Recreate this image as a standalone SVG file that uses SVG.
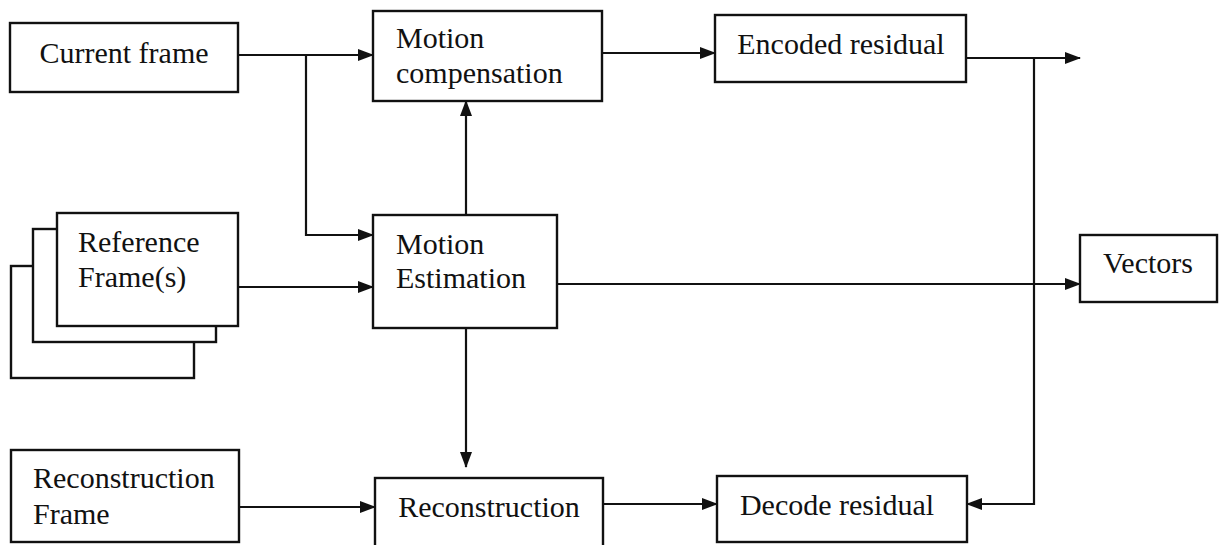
<svg xmlns="http://www.w3.org/2000/svg" width="1224" height="545" viewBox="0 0 1224 545">
<style>
.box{fill:#fff;stroke:#111;stroke-width:2.4}
.t{font-family:"Liberation Serif","Times New Roman",serif;font-size:30px;fill:#111}
.c{fill:none;stroke:#111;stroke-width:2.2}
</style>
<defs>
<marker id="ah" markerUnits="userSpaceOnUse" markerWidth="16" markerHeight="14" refX="15" refY="7" orient="auto">
<path d="M0,1 L16,7 L0,13 Z" fill="#111"/>
</marker>
</defs>
<rect width="1224" height="545" fill="#fff"/>
<g id="current-frame">
<rect class="box" x="10" y="23" width="228" height="69"/>
<text class="t" x="124" y="63" text-anchor="middle">Current frame</text>
</g>
<g id="motion-compensation">
<rect class="box" x="373" y="11" width="229" height="90"/>
<text class="t" x="396" y="48">Motion</text>
<text class="t" x="396" y="83">compensation</text>
</g>
<g id="encoded-residual">
<rect class="box" x="715" y="15" width="251" height="67"/>
<text class="t" x="841" y="54" text-anchor="middle">Encoded residual</text>
</g>
<g id="reference-frames">
<rect class="box" x="11" y="266" width="183" height="112"/>
<rect class="box" x="33" y="229" width="183" height="113"/>
<rect class="box" x="57" y="213" width="181" height="113"/>
<text class="t" x="78" y="252">Reference</text>
<text class="t" x="78" y="287">Frame(s)</text>
</g>
<g id="motion-estimation">
<rect class="box" x="373" y="215" width="184" height="113"/>
<text class="t" x="396" y="254">Motion</text>
<text class="t" x="396" y="288">Estimation</text>
</g>
<g id="vectors">
<rect class="box" x="1080" y="235" width="137" height="67"/>
<text class="t" x="1148" y="273" text-anchor="middle">Vectors</text>
</g>
<g id="reconstruction-frame">
<rect class="box" x="11" y="450" width="228" height="92"/>
<text class="t" x="33" y="488">Reconstruction</text>
<text class="t" x="33" y="524">Frame</text>
</g>
<g id="reconstruction">
<rect class="box" x="375" y="478" width="228" height="80"/>
<text class="t" x="489" y="517" text-anchor="middle">Reconstruction</text>
</g>
<g id="decode-residual">
<rect class="box" x="717" y="476" width="250" height="66"/>
<text class="t" x="837" y="515" text-anchor="middle">Decode residual</text>
</g>
<g id="connectors">
<path class="c" d="M238,55 H373" marker-end="url(#ah)"/>
<path class="c" d="M306,55 V235 H373" marker-end="url(#ah)"/>
<path class="c" d="M238,287 H373" marker-end="url(#ah)"/>
<path class="c" d="M466,215 V101" marker-end="url(#ah)"/>
<path class="c" d="M602,53 H715" marker-end="url(#ah)"/>
<path class="c" d="M966,58 H1080" marker-end="url(#ah)"/>
<path class="c" d="M1034,58 V504 H967" marker-end="url(#ah)"/>
<path class="c" d="M557,284 H1080" marker-end="url(#ah)"/>
<path class="c" d="M466,328 V467" marker-end="url(#ah)"/>
<path class="c" d="M239,507 H375" marker-end="url(#ah)"/>
<path class="c" d="M603,504 H717" marker-end="url(#ah)"/>
</g>
</svg>
